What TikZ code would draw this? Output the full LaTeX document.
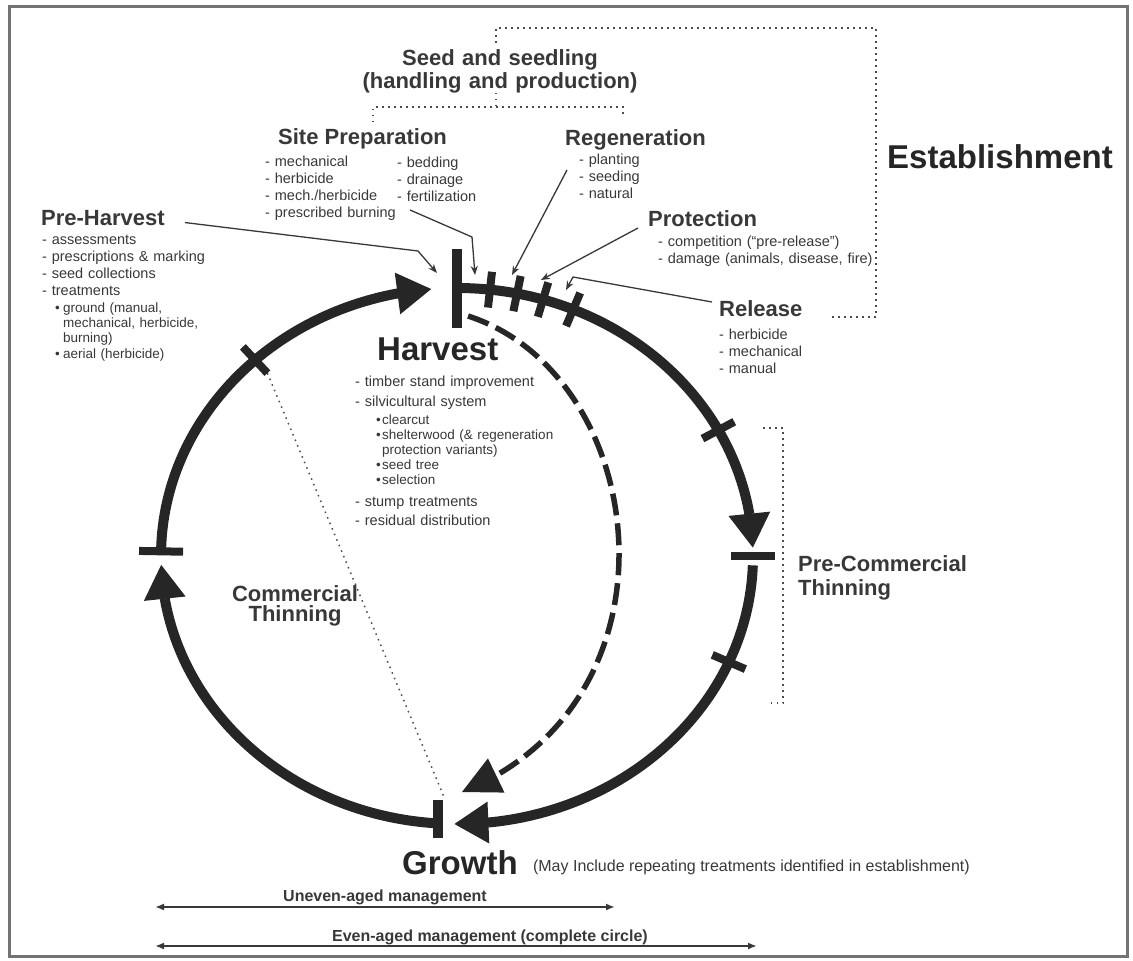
\documentclass[tikz,border=0pt]{standalone}
\usepackage{fontspec}
\setmainfont{Liberation Sans}
\usetikzlibrary{arrows.meta,bending,calc}

\colorlet{inkgray}{black!85}
\colorlet{textgray}{black!78}

\begin{document}
\begin{tikzpicture}[x=1pt,y=-1pt,>={Stealth[length=9pt,width=7pt]},
	big node/.style={inner sep=0pt,text=inkgray,font=\fontsize{33}{36}\selectfont\bfseries},
	head node/.style={inner sep=0pt,text=textgray,font=\fontsize{22}{24}\selectfont\bfseries},
	list node/.style={inner sep=0pt,text=textgray,text width=240pt,align=left,font=\fontsize{14.5}{17}\selectfont},
	sub node/.style={list node,font=\fontsize{13.5}{15.4}\selectfont},
	note node/.style={inner sep=0pt,text=textgray,font=\fontsize{16}{18}\selectfont},
	cycle arc/.style={draw=inkgray,line width=10pt,arrows={-Triangle[length=34pt,width=42pt,line width=0pt]}},
	dash arc/.style={draw=inkgray,line width=5.5pt,dash pattern=on 22pt off 8pt,arrows={-Triangle[length=38pt,width=38pt,line width=0pt]}},
	bar mark/.style={draw=inkgray,line width=10pt},
	tick mark/.style={draw=inkgray,line width=8pt},
	pointer/.style={->,draw=textgray,line width=1.3pt},
	dot line/.style={draw=black!70,line width=1.5pt,dash pattern=on 1.5pt off 4.5pt},
	span arrow/.style={draw=textgray,line width=1.8pt,arrows={Latex[length=9pt,width=7pt]-Latex[length=9pt,width=7pt]}}]

	\useasboundingbox (0,0) rectangle (1133,961);
	\draw[black!55,line width=3pt] (9,6) rectangle (1127,956);

	\coordinate (c) at (457,556);
	\draw[cycle arc] ([shift={(-90:296 and 268)}]c) arc[start angle=-90,end angle=-1.8,x radius=296,y radius=268];
	\draw[cycle arc] ([shift={(2:296 and 268)}]c) arc[start angle=2,end angle=90.5,x radius=296,y radius=268];
	\draw[cycle arc] ([shift={(93.7:296 and 268)}]c) arc[start angle=93.7,end angle=178.1,x radius=296,y radius=268];
	\draw[cycle arc] ([shift={(181.5:296 and 268)}]c) arc[start angle=181.5,end angle=265,x radius=296,y radius=268];

	\draw[bar mark] (457,249) -- (457,328);
	\draw[bar mark] (438,800) -- (438,838);
	\foreach \a in {0,181}
		\draw[tick mark] ([shift={(\a:274 and 246)}]c) -- ([shift={(\a:318 and 290)}]c);
	\foreach \a in {-83.6,-78.3,-73.1,-66.9,-28,23.3,227}
		\draw[tick mark] ([shift={(\a:278 and 250)}]c) -- ([shift={(\a:314 and 286)}]c);

	\coordinate (harvFoot) at (468,316);
	\coordinate (growthIn) at (462,792);
	\draw[dash arc] (harvFoot) .. controls (650,375) and (690,700) .. (growthIn);

	\coordinate (ctTop) at ([shift={(227:278 and 250)}]c);
	\coordinate (ctEnd) at (444,797);
	\draw[dot line] (ctTop) -- (ctEnd);
	\draw[dot line] (763,428) -| (783,703) -- (767,703);

	\node[head node,anchor=base,text width=320pt,align=center,font=\fontsize{22}{23}\selectfont\bfseries] (seed) at (500,65) {Seed and seedling\\(handling and production)};
	\node[big node,anchor=base west] (estab) at (887,168) {Establishment};

	\node[head node,anchor=base west] (sitehead) at (278,144) {Site Preparation};
	\node[list node,anchor=base west] (siteL) at ($(sitehead.base west)+(-13,22)$) {- mechanical\\- herbicide\\- mech./herbicide\\- prescribed burning};
	\node[list node,anchor=base west] (siteR) at ($(sitehead.base west)+(119,23)$) {- bedding\\- drainage\\- fertilization};

	\node[head node,anchor=base west] (reghead) at (565,145) {Regeneration};
	\node[list node,anchor=base west] (regL) at ($(reghead.base west)+(14,19)$) {- planting\\- seeding\\- natural};

	\node[head node,anchor=base west] (prothead) at (648,226) {Protection};
	\node[list node,anchor=base west] (protL) at ($(prothead.base west)+(10,20)$) {- competition (“pre-release”)\\- damage (animals, disease, fire)};

	\node[head node,anchor=base west] (relhead) at (719,316) {Release};
	\node[list node,anchor=base west] (relL) at ($(relhead.base west)+(0,23)$) {- herbicide\\- mechanical\\- manual};

	\node[head node,anchor=base west] (prehead) at (41,225) {Pre-Harvest};
	\node[list node,anchor=base west,font=\fontsize{14.5}{17.3}\selectfont] (preL) at ($(prehead.base west)+(1,19)$) {- assessments\\- prescriptions \& marking\\- seed collections\\- treatments};
	\node[sub node,anchor=base west] (preS) at ($(preL.base west)+(13,68)$) {\makebox[8pt][l]{•}ground (manual,\\\hspace*{8pt}mechanical, herbicide,\\\hspace*{8pt}burning)\\\makebox[8pt][l]{•}aerial (herbicide)};

	\node[big node,anchor=base west] (harvest) at (377,360) {Harvest};
	\node[list node,anchor=base west,font=\fontsize{14.5}{20}\selectfont] (harvL) at ($(harvest.base west)+(-22,26)$) {- timber stand improvement\\- silvicultural system};
	\node[sub node,anchor=base west,font=\fontsize{13.5}{15}\selectfont] (harvS) at ($(harvL.base west)+(21,38)$) {\makebox[6pt][l]{•}clearcut\\\makebox[6pt][l]{•}shelterwood (\& regeneration\\\hspace*{6pt}protection variants)\\\makebox[6pt][l]{•}seed tree\\\makebox[6pt][l]{•}selection};
	\node[list node,anchor=base west,font=\fontsize{14.5}{19}\selectfont] (harvL2) at ($(harvS.base west)+(-21,82)$) {- stump treatments\\- residual distribution};

	\node[head node,anchor=base,text width=160pt,align=center,font=\fontsize{22}{20}\selectfont\bfseries] (ct) at (295,601) {Commercial\\Thinning};
	\node[head node,anchor=base west,text width=200pt,align=left] (pct) at (798,571) {Pre-Commercial\\Thinning};

	\node[big node,anchor=base west] (growth) at (402,874) {Growth};
	\node[note node,anchor=base west] (maynote) at ($(growth.base east)+(15,-3)$) {(May Include repeating treatments identified in establishment)};

	\coordinate (tPre) at (437,273);
	\coordinate (tSite) at (475,275);
	\coordinate (tRegen) at (512,275);
	\coordinate (tProt) at (541,280);
	\coordinate (tRel) at (566,290);
	\draw[pointer] ($(prehead.east)+(20,5)$) -- (418,251) -- (tPre);
	\draw[pointer] ($(siteL.base west)+(145,44)$) -- (472,237) -- (tSite);
	\draw[pointer] ($(regL.base west)+(-12,6)$) -- (tRegen);
	\draw[pointer] ($(prothead.base west)+(-10,2)$) -- (tProt);
	\draw[pointer] ($(relhead.base west)+(-7,-14)$) -- (573,277) -- (tRel);

	\draw[dot line] ($(seed.north)+(-4,-6)$) |- (876,28) |- ($(relhead.base west)+(113,1)$);
	\draw[dot line] ($(seed.south)+(-4,0)$) -- ++(0,15);
	\draw[dot line] (373,122) |- (623,107) -- (623,114);

	\coordinate (uL) at (155,907);
	\coordinate (uR) at (615,907);
	\coordinate (eL) at (155,946);
	\coordinate (eR) at (757,946);
	\draw[span arrow] (uL) -- (uR);
	\draw[span arrow] (eL) -- (eR);
	\node[note node,font=\fontsize{16}{18}\selectfont\bfseries,anchor=base] (uneven) at (385,901) {Uneven-aged management};
	\node[note node,font=\fontsize{16}{18}\selectfont\bfseries,anchor=base] (even) at (490,941) {Even-aged management (complete circle)};
\end{tikzpicture}
\end{document}
